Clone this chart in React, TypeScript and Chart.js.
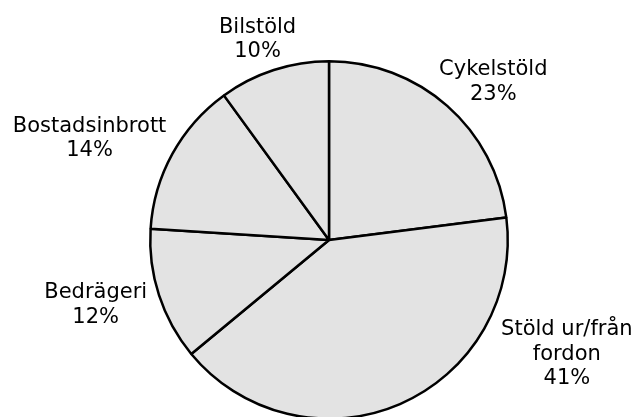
import React, { useEffect, useRef } from "react";
import { Chart, registerables } from "chart.js";

Chart.register(...registerables);

const categories = ["Cykelstöld", "Stöld ur/från fordon", "Bedrägeri", "Bostadsinbrott", "Bilstöld"];
const values = [23, 41, 12, 14, 10];

const FONT = '21px "DejaVu Sans"';
const LINE_H = 24.5;
const MAX_LINE_W = 165;
const LABEL_DIST = 1.056; // anchor distance as a multiple of the radius
const PUSH_X = 1.1;
const PUSH_Y = 0.9;
const VISIBLE_BOTTOM = 417;
const BOTTOM_MARGIN = 26;

function wrap(ctx: CanvasRenderingContext2D, text: string): string[] {
  const words = text.split(" ");
  const lines: string[] = [];
  let cur = "";
  for (const w of words) {
    const t = cur ? cur + " " + w : w;
    if (cur && ctx.measureText(t).width > MAX_LINE_W) {
      lines.push(cur);
      cur = w;
    } else cur = t;
  }
  if (cur) lines.push(cur);
  return lines;
}

const labelPlugin = {
  id: "outerLabels",
  afterDraw(chart: any) {
    const ctx: CanvasRenderingContext2D = chart.ctx;
    const meta = chart.getDatasetMeta(0);
    const data: number[] = chart.data.datasets[0].data;
    const total = data.reduce((a, b) => a + b, 0);
    ctx.save();
    ctx.font = FONT;
    ctx.fillStyle = "#000";
    ctx.textAlign = "center";
    ctx.textBaseline = "middle";
    meta.data.forEach((arc: any, i: number) => {
      const { x, y, startAngle, endAngle, outerRadius } = arc.getProps(
        ["x", "y", "startAngle", "endAngle", "outerRadius"],
        true
      );
      const lines = wrap(ctx, chart.data.labels[i]);
      lines.push(Math.round((data[i] / total) * 100) + "%");
      const w = Math.max(...lines.map((l) => ctx.measureText(l).width));
      const h = lines.length * LINE_H;
      const D = outerRadius * LABEL_DIST;
      const a = (startAngle + endAngle) / 2;
      const dx = Math.cos(a);
      const dy = Math.sin(a);
      let cx = x + dx * D + PUSH_X * dx * (w / 2);
      let cy = y + dy * D + PUSH_Y * dy * (h / 2);
      const limit = VISIBLE_BOTTOM - BOTTOM_MARGIN;
      if (cy + h / 2 > limit) {
        cy = limit - h / 2;
        const top = cy - h / 2;
        const bottom = cy + h / 2;
        const vy = top > y ? top - y : bottom < y ? y - bottom : 0;
        if (vy < D) {
          const need = Math.sqrt(D * D - vy * vy);
          if (dx >= 0) cx = Math.max(cx, x + need + w / 2);
          else cx = Math.min(cx, x - need - w / 2);
        }
      }
      lines.forEach((l, k) => {
        ctx.fillText(l, cx, cy - h / 2 + LINE_H * (k + 0.5));
      });
    });
    ctx.restore();
  },
};

export default function App() {
  const ref = useRef<HTMLCanvasElement | null>(null);
  useEffect(() => {
    if (!ref.current) return;
    const chart = new Chart(ref.current, {
      type: "pie",
      data: {
        labels: categories,
        datasets: [
          {
            data: values,
            backgroundColor: "#e3e3e3",
            borderColor: "#000000",
            borderWidth: 2.5,
            hoverOffset: 0,
          },
        ],
      },
      options: {
        responsive: false,
        animation: false,
        events: [],
        layout: { padding: { top: 60, bottom: 60, left: 149, right: 131 } },
        plugins: {
          legend: { display: false },
          tooltip: { enabled: false },
        },
      },
      plugins: [labelPlugin],
    });
    return () => chart.destroy();
  }, []);
  return (
    <div style={{ position: "fixed", left: 0, top: 0, width: 640, height: 480, background: "#fff" }}>
      <canvas ref={ref} width={640} height={480} style={{ display: "block" }} />
    </div>
  );
}
